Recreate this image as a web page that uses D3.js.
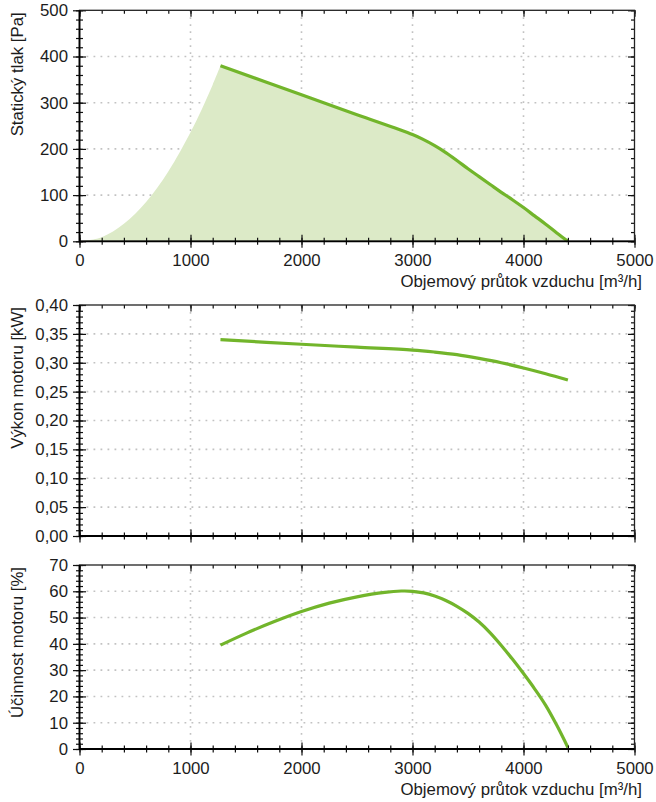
<!DOCTYPE html>
<html><head><meta charset="utf-8">
<script src="https://cdn.jsdelivr.net/npm/d3@7"></script>
<style>
html,body{margin:0;padding:0;background:#fff;}
svg{display:block;font-family:"Liberation Sans",Arial,sans-serif;}
</style></head>
<body>
<svg id="c" width="656" height="802"></svg>
<script>
// ---------- data ----------
const xTicks = [0,1000,2000,3000,4000,5000];
const xTickLabels = ["0","1000","2000","3000","4000","5000"];

// system curve (fill boundary, left part)
const sysFlow =  [0,200,400,600,800,1000,1100,1200,1270];
const sysPress = [0,9,38,85,151,236,285,339,380];

// fan static pressure
const pFlow =  [1270,2000,2500,3000,3100,3200,3300,3400,3500,3600,3700,3800,3900,4000,4100,4200,4300,4400];
const pPress = [380,317,274,231,220,207,192,175,157,140,123,106,90,73,55,37,18,0];
const pTicks = [0,100,200,300,400,500];
const pTickLabels = ["0","100","200","300","400","500"];

// motor power
const wFlow =  [1270,2000,2500,3000,3200,3400,3600,3800,4000,4200,4400];
const wPower = [0.340,0.332,0.327,0.322,0.3185,0.314,0.3075,0.300,0.291,0.281,0.270];
const wTicks = [0,0.05,0.10,0.15,0.20,0.25,0.30,0.35,0.40];
const wTickLabels = ["0,00","0,05","0,10","0,15","0,20","0,25","0,30","0,35","0,40"];

// motor efficiency
const eFlow = [1270,1500,1750,2000,2250,2500,2750,2900,3000,3100,3200,3300,3400,3500,3600,3700,3800,3900,4000,4100,4200,4300,4400];
const eEff  = [39.5,44.0,48.4,52.3,55.5,57.9,59.6,60.1,60.0,59.4,58.2,56.5,54.3,51.6,48.3,44.2,39.4,34.2,28.7,22.9,16.6,9.0,0.6];
const eTicks = [0,10,20,30,40,50,60,70];
const eTickLabels = ["0","10","20","30","40","50","60","70"];

const titleX = "Objemový průtok vzduchu [m³/h]";
const titleP = "Statický tlak [Pa]";
const titleW = "Výkon motoru [kW]";
const titleE = "Účinnost motoru [%]";

// ---------- drawing ----------
const svg = d3.select("#c");
const LINE = "#72b52b", FILL = "#dceac7", GRID = "#c2c2c2", TXT = "#1c1c1c";
const FS = 16.8;
const x = d3.scaleLinear().domain([0,5000]).range([79.5,634.5]);
const xMinor = d3.range(0,5001,200);

function panel(cfg){
  const y = d3.scaleLinear().domain(cfg.domain).range(cfg.range);
  const g = svg.append("g");
  const top = cfg.range[1], bot = cfg.range[0];
  const left = x.range()[0], right = x.range()[1];
  // grid
  const gg = g.append("g").attr("stroke",GRID).attr("stroke-width",1.6).attr("stroke-dasharray","1.8,5.2");
  xTicks.slice(1,-1).forEach(v=>gg.append("line").attr("x1",x(v)).attr("x2",x(v)).attr("y1",top).attr("y2",bot));
  cfg.ticks.slice(1,-1).forEach(v=>gg.append("line").attr("y1",y(v)).attr("y2",y(v)).attr("x1",left).attr("x2",right));
  if (cfg.draw) cfg.draw(g,y);
  const minorVals = cfg.minor;
  // left (crossing)
  const la = g.append("g").attr("transform",`translate(${left},0)`)
    .call(d3.axisLeft(y).tickValues(minorVals).tickSize(3.5).tickFormat(""));
  la.selectAll(".tick line").attr("x1",3.5);
  const lb = g.append("g").attr("transform",`translate(${left},0)`)
    .call(d3.axisLeft(y).tickValues(cfg.ticks).tickSize(6.5).tickFormat(""));
  lb.selectAll(".tick line").attr("x1",6.5);
  // right (inward)
  g.append("g").attr("transform",`translate(${right},0)`)
    .call(d3.axisRight(y).tickValues(minorVals).tickSize(-3.5).tickFormat(""));
  g.append("g").attr("transform",`translate(${right},0)`)
    .call(d3.axisRight(y).tickValues(cfg.ticks).tickSize(-6.5).tickFormat(""));
  // top (inward)
  g.append("g").attr("transform",`translate(0,${top})`)
    .call(d3.axisTop(x).tickValues(xMinor).tickSize(-3.5).tickFormat(""));
  g.append("g").attr("transform",`translate(0,${top})`)
    .call(d3.axisTop(x).tickValues(xTicks).tickSize(-6.5).tickFormat(""));
  // bottom (crossing)
  const ba = g.append("g").attr("transform",`translate(0,${bot})`)
    .call(d3.axisBottom(x).tickValues(xMinor).tickSize(3.5).tickFormat(""));
  ba.selectAll(".tick line").attr("y1",-3.5);
  const bb = g.append("g").attr("transform",`translate(0,${bot})`)
    .call(d3.axisBottom(x).tickValues(xTicks).tickSize(6.5).tickFormat(""));
  bb.selectAll(".tick line").attr("y1",-6.5);
  g.selectAll(".domain").remove();
  g.selectAll(".tick line").attr("stroke","#111").attr("stroke-width",1.2);
  // frame
  g.append("rect").attr("x",left).attr("y",top).attr("width",right-left).attr("height",bot-top)
    .attr("fill","none").attr("stroke","#222").attr("stroke-width",1.3);
  g.append("line").attr("x1",left).attr("x2",left).attr("y1",top).attr("y2",bot+1).attr("stroke","#000").attr("stroke-width",1.8);
  g.append("line").attr("x1",left).attr("x2",right).attr("y1",bot).attr("y2",bot).attr("stroke","#000").attr("stroke-width",1.8);
  // y tick labels
  g.append("g").attr("transform",`translate(${left},0)`)
    .call(d3.axisLeft(y).tickValues(cfg.ticks).tickSize(0).tickPadding(11.5)
      .tickFormat((d,i)=>cfg.labels[i]))
    .call(a=>a.select(".domain").remove())
    .selectAll("text").attr("font-size",FS).attr("fill",TXT).attr("font-family","Liberation Sans, Arial, sans-serif");
  // x tick labels
  if (cfg.xLabels){
    g.append("g").attr("transform",`translate(0,${bot})`)
      .call(d3.axisBottom(x).tickValues(xTicks).tickSize(0).tickPadding(13)
        .tickFormat((d,i)=>xTickLabels[i]))
      .call(a=>a.select(".domain").remove())
      .selectAll("text").attr("font-size",FS).attr("fill",TXT).attr("font-family","Liberation Sans, Arial, sans-serif");
    g.append("text").attr("x",642).attr("y",bot+46).attr("text-anchor","end")
      .attr("font-size",FS).attr("fill",TXT).text(titleX);
  }
  // y title
  g.append("text").attr("transform",`translate(23,${top+2}) rotate(-90)`).attr("text-anchor","end")
    .attr("font-size",FS).attr("fill",TXT).text(cfg.title);
  return y;
}

const curve = d3.curveCatmullRom.alpha(0.5);

panel({domain:[0,500], range:[241.3,10.3], ticks:pTicks, labels:pTickLabels,
  minor:d3.range(0,501,20), title:titleP, xLabels:true,
  draw:(g,y)=>{
    const sys = sysFlow.map((f,i)=>[f,sysPress[i]]);
    const fan = pFlow.map((f,i)=>[f,pPress[i]]);
    const lg = d3.line().x(d=>x(d[0])).y(d=>y(d[1])).curve(curve);
    const p = lg(sys) + lg(fan).replace(/^M/,"L") +
      `L${x(pFlow[pFlow.length-1])},${y(0)}L${x(sysFlow[0])},${y(0)}Z`;
    g.append("path").attr("d",p).attr("fill",FILL).attr("stroke","none");
    g.append("path").attr("d",lg(fan)).attr("fill","none").attr("stroke",LINE).attr("stroke-width",3.2);
  }});

panel({domain:[0,0.4], range:[536,305], ticks:wTicks, labels:wTickLabels,
  minor:d3.range(0,41,1).map(v=>v/100), title:titleW, xLabels:false,
  draw:(g,y)=>{
    const lg = d3.line().x(d=>x(d[0])).y(d=>y(d[1])).curve(curve);
    g.append("path").attr("d",lg(wFlow.map((f,i)=>[f,wPower[i]]))).attr("fill","none")
      .attr("stroke",LINE).attr("stroke-width",3.2);
  }});

panel({domain:[0,70], range:[749,565], ticks:eTicks, labels:eTickLabels,
  minor:d3.range(0,71,2), title:titleE, xLabels:true,
  draw:(g,y)=>{
    const lg = d3.line().x(d=>x(d[0])).y(d=>y(d[1])).curve(curve);
    g.append("path").attr("d",lg(eFlow.map((f,i)=>[f,eEff[i]]))).attr("fill","none")
      .attr("stroke",LINE).attr("stroke-width",3.2);
  }});
</script>
</body></html>
